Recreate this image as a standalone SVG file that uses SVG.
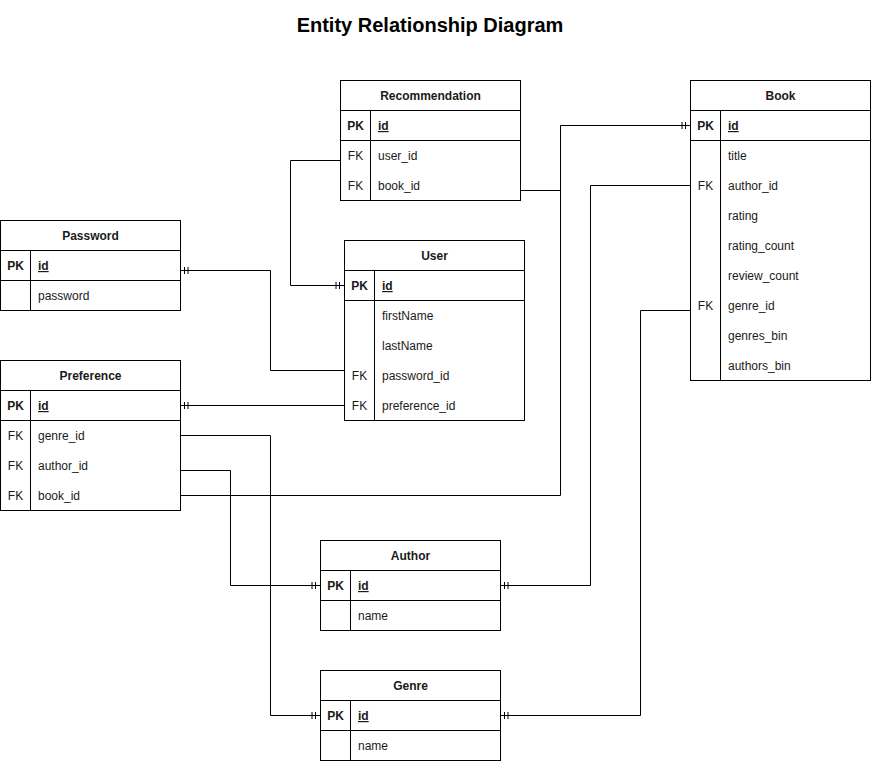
<svg xmlns="http://www.w3.org/2000/svg" width="871" height="761" viewBox="0 0 871 761">
<style>
text{font-family:"Liberation Sans",Arial,Helvetica,sans-serif;font-size:12px;fill:#1a1a1a}
.t{font-size:20px;font-weight:bold;fill:#000}
.h{font-weight:bold;text-anchor:middle}
.k{text-anchor:middle}
.kb{text-anchor:middle;font-weight:bold}
.pk{font-weight:bold;text-decoration:underline}
.box{fill:#fff;stroke:#000;stroke-width:1}
.ln{fill:none;stroke:#000;stroke-width:1}
.c{fill:none;stroke:#000;stroke-width:1}
</style>
<rect width="871" height="761" fill="#fff"/>
<text class="t" x="430" y="32" text-anchor="middle">Entity Relationship Diagram</text>

<g id="connectors">
<path class="c" d="M340.5,160.5H290.5V285.5H344"/>
<path class="c" d="M180,270.5H270.5V370.5H344"/>
<path class="c" d="M180,405.5H344"/>
<path class="c" d="M180,435.5H270.5V715.5H320"/>
<path class="c" d="M180,470.5H230.5V585.5H320"/>
<path class="c" d="M180,495.5H560.5V125.5H690"/>
<path class="c" d="M520,190.5H560.5"/>
<path class="c" d="M690,185.5H590.5V585.5H500"/>
<path class="c" d="M690,310.5H640.5V715.5H500"/>
<!-- mandatory-one ticks -->
<path class="c" d="M339.5,282V289M336,282V289"/>
<path class="c" d="M184.5,267V274M188,267V274"/>
<path class="c" d="M184.5,402V409M188,402V409"/>
<path class="c" d="M315.5,712V719M312,712V719"/>
<path class="c" d="M315.5,582V589M312,582V589"/>
<path class="c" d="M685.5,122V129M682,122V129"/>
<path class="c" d="M504.5,582V589M508,582V589"/>
<path class="c" d="M504.5,712V719M508,712V719"/>
</g>

<g id="recommendation">
<rect class="box" x="340.5" y="80.5" width="180" height="120"/>
<path class="ln" d="M340.5,110.5H520.5M340.5,140.5H520.5M370.5,110.5V200.5"/>
<text class="h" x="430.5" y="100">Recommendation</text>
<text class="kb" x="355.5" y="130">PK</text><text class="pk" x="378" y="130">id</text>
<text class="k" x="355.5" y="160">FK</text><text x="378" y="160">user_id</text>
<text class="k" x="355.5" y="190">FK</text><text x="378" y="190">book_id</text>
</g>

<g id="book">
<rect class="box" x="690.5" y="80.5" width="180" height="300"/>
<path class="ln" d="M690.5,110.5H870.5M690.5,140.5H870.5M720.5,110.5V380.5"/>
<text class="h" x="780.5" y="100">Book</text>
<text class="kb" x="705.5" y="130">PK</text><text class="pk" x="728" y="130">id</text>
<text x="728" y="160">title</text>
<text class="k" x="705.5" y="190">FK</text><text x="728" y="190">author_id</text>
<text x="728" y="220">rating</text>
<text x="728" y="250">rating_count</text>
<text x="728" y="280">review_count</text>
<text class="k" x="705.5" y="310">FK</text><text x="728" y="310">genre_id</text>
<text x="728" y="340">genres_bin</text>
<text x="728" y="370">authors_bin</text>
</g>

<g id="password">
<rect class="box" x="0.5" y="220.5" width="180" height="90"/>
<path class="ln" d="M0.5,250.5H180.5M0.5,280.5H180.5M30.5,250.5V310.5"/>
<text class="h" x="90.5" y="240">Password</text>
<text class="kb" x="15.5" y="270">PK</text><text class="pk" x="38" y="270">id</text>
<text x="38" y="300">password</text>
</g>

<g id="user">
<rect class="box" x="344.5" y="240.5" width="180" height="180"/>
<path class="ln" d="M344.5,270.5H524.5M344.5,300.5H524.5M374.5,270.5V420.5"/>
<text class="h" x="434.5" y="260">User</text>
<text class="kb" x="359.5" y="290">PK</text><text class="pk" x="382" y="290">id</text>
<text x="382" y="320">firstName</text>
<text x="382" y="350">lastName</text>
<text class="k" x="359.5" y="380">FK</text><text x="382" y="380">password_id</text>
<text class="k" x="359.5" y="410">FK</text><text x="382" y="410">preference_id</text>
</g>

<g id="preference">
<rect class="box" x="0.5" y="360.5" width="180" height="150"/>
<path class="ln" d="M0.5,390.5H180.5M0.5,420.5H180.5M30.5,390.5V510.5"/>
<text class="h" x="90.5" y="380">Preference</text>
<text class="kb" x="15.5" y="410">PK</text><text class="pk" x="38" y="410">id</text>
<text class="k" x="15.5" y="440">FK</text><text x="38" y="440">genre_id</text>
<text class="k" x="15.5" y="470">FK</text><text x="38" y="470">author_id</text>
<text class="k" x="15.5" y="500">FK</text><text x="38" y="500">book_id</text>
</g>

<g id="author">
<rect class="box" x="320.5" y="540.5" width="180" height="90"/>
<path class="ln" d="M320.5,570.5H500.5M320.5,600.5H500.5M350.5,570.5V630.5"/>
<text class="h" x="410.5" y="560">Author</text>
<text class="kb" x="335.5" y="590">PK</text><text class="pk" x="358" y="590">id</text>
<text x="358" y="620">name</text>
</g>

<g id="genre">
<rect class="box" x="320.5" y="670.5" width="180" height="90"/>
<path class="ln" d="M320.5,700.5H500.5M320.5,730.5H500.5M350.5,700.5V760.5"/>
<text class="h" x="410.5" y="690">Genre</text>
<text class="kb" x="335.5" y="720">PK</text><text class="pk" x="358" y="720">id</text>
<text x="358" y="750">name</text>
</g>
</svg>
